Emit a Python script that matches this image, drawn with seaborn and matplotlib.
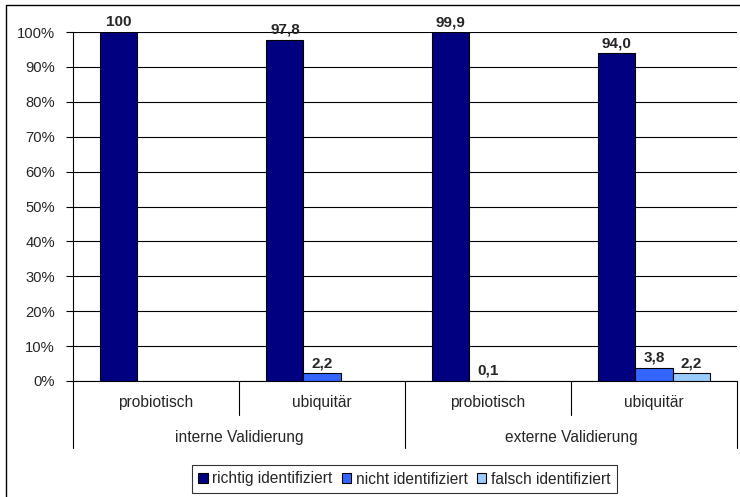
import numpy as np
import pandas as pd
import matplotlib
matplotlib.use("Agg")
import matplotlib.pyplot as plt
import matplotlib.transforms as mtransforms
from matplotlib.lines import Line2D
from matplotlib.patches import Patch
import seaborn as sns

# Data
groups = ["interne Validierung", "externe Validierung"]
subcats = ["probiotisch", "ubiquitär", "probiotisch", "ubiquitär"]
series = ["richtig identifiziert", "nicht identifiziert", "falsch identifiziert"]
richtig = [100.0, 97.8, 99.9, 94.0]
nicht = [np.nan, 2.2, 0.1, 3.8]
falsch = [np.nan, np.nan, np.nan, 2.2]
colors = ["#000080", "#3366FF", "#99CCFF"]
yticks = [0, 10, 20, 30, 40, 50, 60, 70, 80, 90, 100]

sns.set_theme(style="white")
plt.rcParams["font.family"] = ["Liberation Sans", "DejaVu Sans"]

slots = [f"c{i}" for i in range(len(subcats))]
rows = []
for i, slot in enumerate(slots):
    for name, vals in zip(series, [richtig, nicht, falsch]):
        rows.append({"slot": slot, "serie": name, "wert": vals[i]})
df = pd.DataFrame(rows).dropna()

fig = plt.figure(figsize=(7.40, 4.97), dpi=100)
ax = fig.add_axes([73 / 740, 1 - 381 / 497, (737 - 73) / 740, (381 - 32) / 497])

sns.barplot(data=df, x="slot", y="wert", hue="serie", order=slots,
            hue_order=series, palette=colors, width=0.67, gap=0,
            edgecolor="black", linewidth=0.8, saturation=1, ax=ax,
            legend=False, zorder=3)

ax.set_ylim(0, 100)
ax.set_xlim(-0.5, len(slots) - 0.5)
ax.set_yticks(yticks)
ax.set_yticklabels([f"{t}%" for t in yticks], fontsize=10.6)
ax.tick_params(axis="y", direction="out", length=5, width=0.8, color="black",
               left=True, pad=8)
ax.set_xticks([])
ax.set_xlabel("")
ax.set_ylabel("")
ax.grid(axis="y", color="black", linewidth=0.8, zorder=0)
ax.set_axisbelow(True)
for side in ["top", "right"]:
    ax.spines[side].set_visible(False)
for side in ["left", "bottom"]:
    ax.spines[side].set_color("black")
    ax.spines[side].set_linewidth(0.8)


def fmt(v):
    return "100" if v >= 100 else f"{v:.1f}".replace(".", ",")


for cont in ax.containers:
    ax.bar_label(cont, labels=[fmt(b.get_height()) for b in cont],
                 fontsize=11, fontweight="bold", padding=2)

# Two-level category axis
trans = mtransforms.blended_transform_factory(ax.transData, ax.transAxes)
for i, lab in enumerate(subcats):
    ax.text(i, -0.063, lab, transform=trans, ha="center", va="center",
            fontsize=11.2, clip_on=False)
for g, lab in enumerate(groups):
    ax.text(2 * g + 0.5, -0.163, lab, transform=trans, ha="center",
            va="center", fontsize=11.2, clip_on=False)
line_kw = dict(transform=trans, color="black", linewidth=0.8, clip_on=False)
for x in [0.5, 2.5]:
    ax.plot([x, x], [0, -0.0974], **line_kw)
for x in [-0.5, 1.5, 3.5]:
    ax.plot([x, x], [0, -0.192], **line_kw)

# Legend
handles = [Patch(facecolor=c, edgecolor="black", linewidth=0.8) for c in colors]
leg = fig.legend(handles, series, loc="center",
                 bbox_to_anchor=(404.5 / 740, 1 - 479 / 497),
                 ncol=3, fontsize=11.2, frameon=True, fancybox=False,
                 handlelength=0.6, handleheight=0.6, handletextpad=0.3,
                 columnspacing=0.6, borderpad=0.4, borderaxespad=0,
                 edgecolor="black")
leg.get_frame().set_linewidth(0.8)

# Outer frame (left and top edges)
fig.add_artist(Line2D([6 / 740, 6 / 740], [0, 1 - 5 / 497],
                      transform=fig.transFigure, color="black", linewidth=1.0))
fig.add_artist(Line2D([6 / 740, 1], [1 - 5 / 497, 1 - 5 / 497],
                      transform=fig.transFigure, color="black", linewidth=1.0))

fig.savefig("out.png", dpi=100)
